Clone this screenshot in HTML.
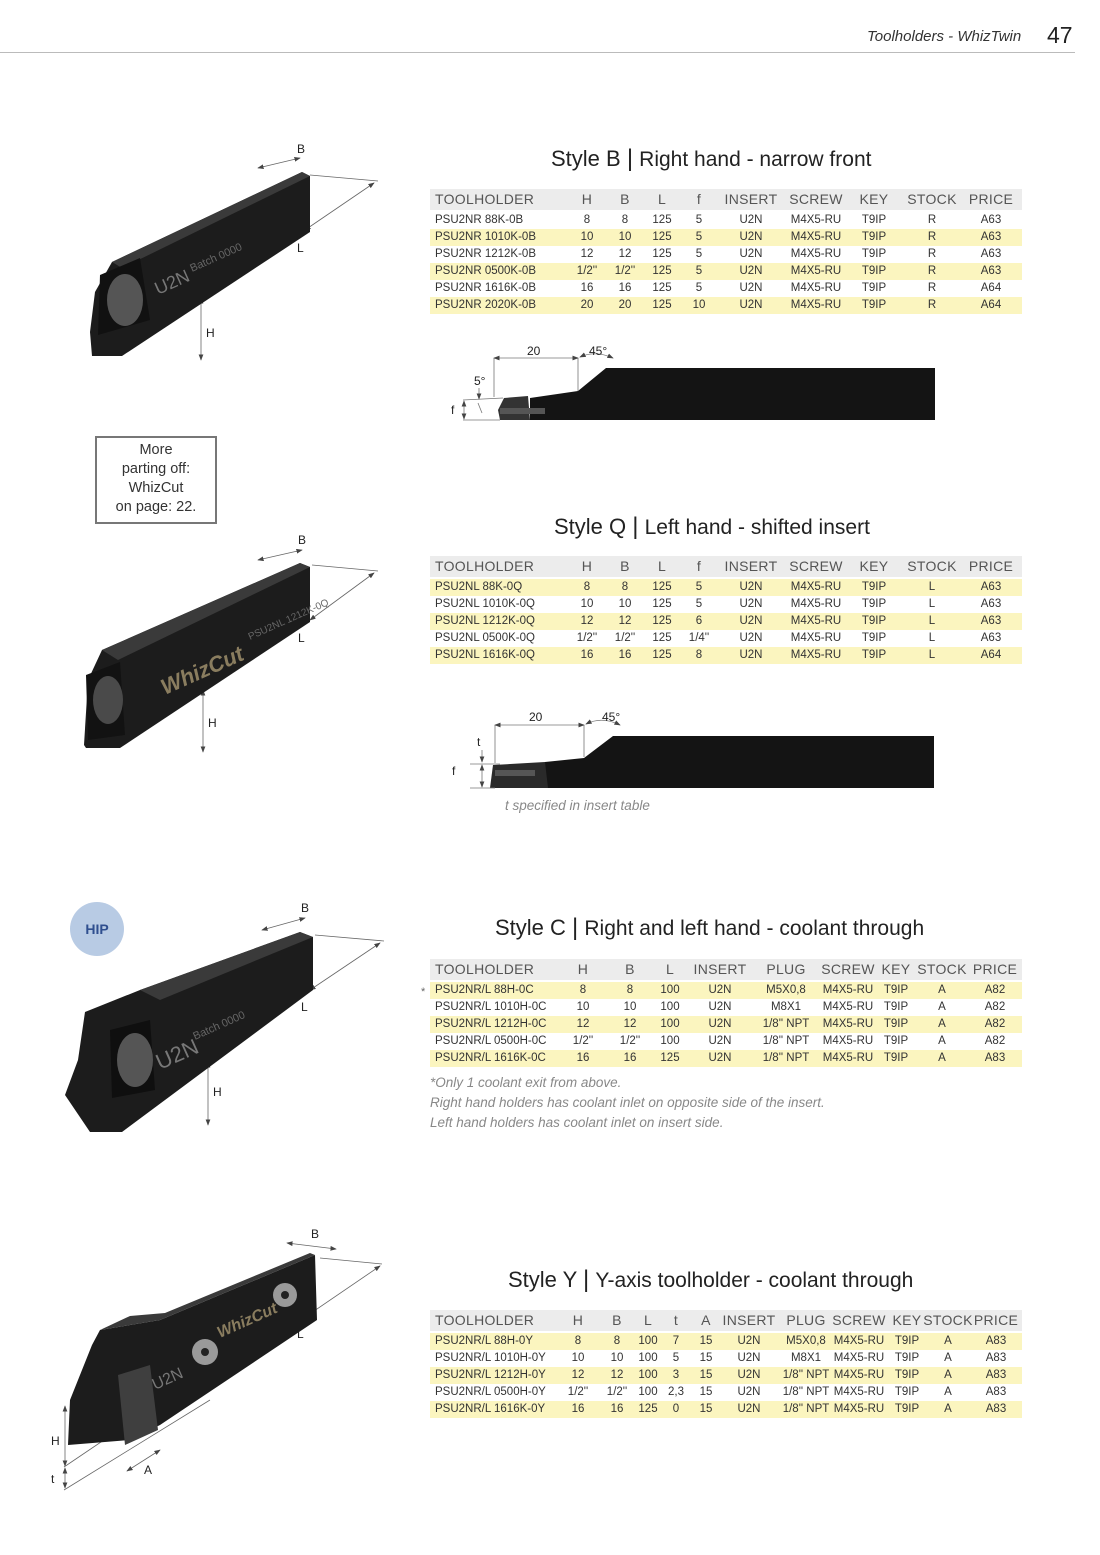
<!DOCTYPE html>
<html><head><meta charset="utf-8"><style>
*{margin:0;padding:0;box-sizing:border-box}
body{width:1100px;height:1555px;position:relative;background:#fff;font-family:"Liberation Sans",sans-serif;color:#333;overflow:hidden}
.a{position:absolute}
.tbl{position:absolute;left:430px;width:592px}
.r{position:absolute;left:0;width:592px;height:17px;font-size:11.5px;line-height:17px}
.r.y{background:#fbf5bf}
.r.hd{background:#ececec;height:21px;line-height:21px;font-size:14px;color:#555;letter-spacing:.3px}
.r span{position:absolute;width:70px;margin-left:-35px;text-align:center;white-space:nowrap}
.r span.t{margin-left:0;text-align:left;width:160px;left:5px}
.title{position:absolute;font-size:22px;color:#222;white-space:nowrap}
.note{position:absolute;font-size:13.5px;font-style:italic;color:#888;white-space:nowrap}
</style></head><body>

<div class="a" style="left:0;top:52px;width:1075px;height:1px;background:#bbb"></div>
<div class="a" style="left:867px;top:28px;font-size:15px;font-style:italic;color:#333">Toolholders - WhizTwin</div>
<div class="a" style="left:1047px;top:22px;font-size:23px;color:#222">47</div>

<!-- Style B -->
<div class="title" style="left:551px;top:145px">Style B <span style="font-size:24px">|</span> <span style="font-size:21px">Right hand - narrow front</span></div>
<style>
#tb .c2{left:157px}#tb .c3{left:195px}#tb .c4{left:232px}#tb .c5{left:269px}#tb .c6{left:321px}#tb .c7{left:386px}#tb .c8{left:444px}#tb .c9{left:502px}#tb .c10{left:561px}
</style>
<div class="tbl" id="tb" style="top:189px">
<div class="r hd" style="top:0"><span class="t">TOOLHOLDER</span><span class="c2">H</span><span class="c3">B</span><span class="c4">L</span><span class="c5">f</span><span class="c6">INSERT</span><span class="c7">SCREW</span><span class="c8">KEY</span><span class="c9">STOCK</span><span class="c10">PRICE</span></div>
<div class="r" style="top:23px"><span class="t">PSU2NR 88K-0B</span><span class="c2">8</span><span class="c3">8</span><span class="c4">125</span><span class="c5">5</span><span class="c6">U2N</span><span class="c7">M4X5-RU</span><span class="c8">T9IP</span><span class="c9">R</span><span class="c10">A63</span></div>
<div class="r y" style="top:40px"><span class="t">PSU2NR 1010K-0B</span><span class="c2">10</span><span class="c3">10</span><span class="c4">125</span><span class="c5">5</span><span class="c6">U2N</span><span class="c7">M4X5-RU</span><span class="c8">T9IP</span><span class="c9">R</span><span class="c10">A63</span></div>
<div class="r" style="top:57px"><span class="t">PSU2NR 1212K-0B</span><span class="c2">12</span><span class="c3">12</span><span class="c4">125</span><span class="c5">5</span><span class="c6">U2N</span><span class="c7">M4X5-RU</span><span class="c8">T9IP</span><span class="c9">R</span><span class="c10">A63</span></div>
<div class="r y" style="top:74px"><span class="t">PSU2NR 0500K-0B</span><span class="c2">1/2''</span><span class="c3">1/2''</span><span class="c4">125</span><span class="c5">5</span><span class="c6">U2N</span><span class="c7">M4X5-RU</span><span class="c8">T9IP</span><span class="c9">R</span><span class="c10">A63</span></div>
<div class="r" style="top:91px"><span class="t">PSU2NR 1616K-0B</span><span class="c2">16</span><span class="c3">16</span><span class="c4">125</span><span class="c5">5</span><span class="c6">U2N</span><span class="c7">M4X5-RU</span><span class="c8">T9IP</span><span class="c9">R</span><span class="c10">A64</span></div>
<div class="r y" style="top:108px"><span class="t">PSU2NR 2020K-0B</span><span class="c2">20</span><span class="c3">20</span><span class="c4">125</span><span class="c5">10</span><span class="c6">U2N</span><span class="c7">M4X5-RU</span><span class="c8">T9IP</span><span class="c9">R</span><span class="c10">A64</span></div>
</div>

<!-- Style Q -->
<div class="title" style="left:554px;top:513px">Style Q <span style="font-size:24px">|</span> <span style="font-size:21px">Left hand - shifted insert</span></div>
<div class="tbl" id="tb" style="top:556px">
<div class="r hd" style="top:0"><span class="t">TOOLHOLDER</span><span class="c2">H</span><span class="c3">B</span><span class="c4">L</span><span class="c5">f</span><span class="c6">INSERT</span><span class="c7">SCREW</span><span class="c8">KEY</span><span class="c9">STOCK</span><span class="c10">PRICE</span></div>
<div class="r y" style="top:23px"><span class="t">PSU2NL 88K-0Q</span><span class="c2">8</span><span class="c3">8</span><span class="c4">125</span><span class="c5">5</span><span class="c6">U2N</span><span class="c7">M4X5-RU</span><span class="c8">T9IP</span><span class="c9">L</span><span class="c10">A63</span></div>
<div class="r" style="top:40px"><span class="t">PSU2NL 1010K-0Q</span><span class="c2">10</span><span class="c3">10</span><span class="c4">125</span><span class="c5">5</span><span class="c6">U2N</span><span class="c7">M4X5-RU</span><span class="c8">T9IP</span><span class="c9">L</span><span class="c10">A63</span></div>
<div class="r y" style="top:57px"><span class="t">PSU2NL 1212K-0Q</span><span class="c2">12</span><span class="c3">12</span><span class="c4">125</span><span class="c5">6</span><span class="c6">U2N</span><span class="c7">M4X5-RU</span><span class="c8">T9IP</span><span class="c9">L</span><span class="c10">A63</span></div>
<div class="r" style="top:74px"><span class="t">PSU2NL 0500K-0Q</span><span class="c2">1/2''</span><span class="c3">1/2''</span><span class="c4">125</span><span class="c5">1/4''</span><span class="c6">U2N</span><span class="c7">M4X5-RU</span><span class="c8">T9IP</span><span class="c9">L</span><span class="c10">A63</span></div>
<div class="r y" style="top:91px"><span class="t">PSU2NL 1616K-0Q</span><span class="c2">16</span><span class="c3">16</span><span class="c4">125</span><span class="c5">8</span><span class="c6">U2N</span><span class="c7">M4X5-RU</span><span class="c8">T9IP</span><span class="c9">L</span><span class="c10">A64</span></div>
</div>

<!-- Style C -->
<div class="title" style="left:495px;top:914px">Style C <span style="font-size:24px">|</span> <span style="font-size:21px">Right and left hand - coolant through</span></div>
<style>
#tc .c2{left:153px}#tc .c3{left:200px}#tc .c4{left:240px}#tc .c5{left:290px}#tc .c6{left:356px}#tc .c7{left:418px}#tc .c8{left:466px}#tc .c9{left:512px}#tc .c10{left:565px}
</style>
<div class="a" style="left:421px;top:986px;font-size:11px;color:#666">*</div>
<div class="tbl" id="tc" style="top:959px">
<div class="r hd" style="top:0"><span class="t">TOOLHOLDER</span><span class="c2">H</span><span class="c3">B</span><span class="c4">L</span><span class="c5">INSERT</span><span class="c6">PLUG</span><span class="c7">SCREW</span><span class="c8">KEY</span><span class="c9">STOCK</span><span class="c10">PRICE</span></div>
<div class="r y" style="top:23px"><span class="t">PSU2NR/L 88H-0C</span><span class="c2">8</span><span class="c3">8</span><span class="c4">100</span><span class="c5">U2N</span><span class="c6">M5X0,8</span><span class="c7">M4X5-RU</span><span class="c8">T9IP</span><span class="c9">A</span><span class="c10">A82</span></div>
<div class="r" style="top:40px"><span class="t">PSU2NR/L 1010H-0C</span><span class="c2">10</span><span class="c3">10</span><span class="c4">100</span><span class="c5">U2N</span><span class="c6">M8X1</span><span class="c7">M4X5-RU</span><span class="c8">T9IP</span><span class="c9">A</span><span class="c10">A82</span></div>
<div class="r y" style="top:57px"><span class="t">PSU2NR/L 1212H-0C</span><span class="c2">12</span><span class="c3">12</span><span class="c4">100</span><span class="c5">U2N</span><span class="c6">1/8'' NPT</span><span class="c7">M4X5-RU</span><span class="c8">T9IP</span><span class="c9">A</span><span class="c10">A82</span></div>
<div class="r" style="top:74px"><span class="t">PSU2NR/L 0500H-0C</span><span class="c2">1/2''</span><span class="c3">1/2''</span><span class="c4">100</span><span class="c5">U2N</span><span class="c6">1/8'' NPT</span><span class="c7">M4X5-RU</span><span class="c8">T9IP</span><span class="c9">A</span><span class="c10">A82</span></div>
<div class="r y" style="top:91px"><span class="t">PSU2NR/L 1616K-0C</span><span class="c2">16</span><span class="c3">16</span><span class="c4">125</span><span class="c5">U2N</span><span class="c6">1/8'' NPT</span><span class="c7">M4X5-RU</span><span class="c8">T9IP</span><span class="c9">A</span><span class="c10">A83</span></div>
</div>
<div class="note" style="left:430px;top:1075px">*Only 1 coolant exit from above.</div>
<div class="note" style="left:430px;top:1095px">Right hand holders has coolant inlet on opposite side of the insert.</div>
<div class="note" style="left:430px;top:1115px">Left hand holders has coolant inlet on insert side.</div>

<!-- Style Y -->
<div class="title" style="left:508px;top:1266px">Style Y <span style="font-size:24px">|</span> <span style="font-size:21px">Y-axis toolholder - coolant through</span></div>
<style>
#ty .r span{width:60px;margin-left:-30px}
#ty .r span.t{margin-left:0;width:160px;left:5px;text-align:left}
#ty .c2{left:148px}#ty .c3{left:187px}#ty .c4{left:218px}#ty .c5{left:246px}#ty .c6{left:276px}#ty .c7{left:319px}#ty .c8{left:376px}#ty .c9{left:429px}#ty .c10{left:477px}#ty .c11{left:518px}#ty .c12{left:566px}
</style>
<div class="tbl" id="ty" style="top:1310px">
<div class="r hd" style="top:0"><span class="t">TOOLHOLDER</span><span class="c2">H</span><span class="c3">B</span><span class="c4">L</span><span class="c5">t</span><span class="c6">A</span><span class="c7">INSERT</span><span class="c8">PLUG</span><span class="c9">SCREW</span><span class="c10">KEY</span><span class="c11">STOCK</span><span class="c12">PRICE</span></div>
<div class="r y" style="top:23px"><span class="t">PSU2NR/L 88H-0Y</span><span class="c2">8</span><span class="c3">8</span><span class="c4">100</span><span class="c5">7</span><span class="c6">15</span><span class="c7">U2N</span><span class="c8">M5X0,8</span><span class="c9">M4X5-RU</span><span class="c10">T9IP</span><span class="c11">A</span><span class="c12">A83</span></div>
<div class="r" style="top:40px"><span class="t">PSU2NR/L 1010H-0Y</span><span class="c2">10</span><span class="c3">10</span><span class="c4">100</span><span class="c5">5</span><span class="c6">15</span><span class="c7">U2N</span><span class="c8">M8X1</span><span class="c9">M4X5-RU</span><span class="c10">T9IP</span><span class="c11">A</span><span class="c12">A83</span></div>
<div class="r y" style="top:57px"><span class="t">PSU2NR/L 1212H-0Y</span><span class="c2">12</span><span class="c3">12</span><span class="c4">100</span><span class="c5">3</span><span class="c6">15</span><span class="c7">U2N</span><span class="c8">1/8'' NPT</span><span class="c9">M4X5-RU</span><span class="c10">T9IP</span><span class="c11">A</span><span class="c12">A83</span></div>
<div class="r" style="top:74px"><span class="t">PSU2NR/L 0500H-0Y</span><span class="c2">1/2''</span><span class="c3">1/2''</span><span class="c4">100</span><span class="c5">2,3</span><span class="c6">15</span><span class="c7">U2N</span><span class="c8">1/8'' NPT</span><span class="c9">M4X5-RU</span><span class="c10">T9IP</span><span class="c11">A</span><span class="c12">A83</span></div>
<div class="r y" style="top:91px"><span class="t">PSU2NR/L 1616K-0Y</span><span class="c2">16</span><span class="c3">16</span><span class="c4">125</span><span class="c5">0</span><span class="c6">15</span><span class="c7">U2N</span><span class="c8">1/8'' NPT</span><span class="c9">M4X5-RU</span><span class="c10">T9IP</span><span class="c11">A</span><span class="c12">A83</span></div>
</div>

<!-- More box -->
<div class="a" style="left:95px;top:436px;width:122px;height:88px;border:2px solid #777;font-size:14.5px;line-height:19px;text-align:center;padding-top:3px;color:#333">More<br>parting off:<br>WhizCut<br>on page: 22.</div>

<!-- HIP -->
<div class="a" style="left:70px;top:902px;width:54px;height:54px;border-radius:50%;background:#b8cbe4;color:#2f4f8f;font-weight:bold;font-size:14px;text-align:center;line-height:54px">HIP</div>

<svg class="a" style="left:0;top:0" width="1100" height="1555" xmlns="http://www.w3.org/2000/svg" font-family="Liberation Sans, sans-serif">
<defs><marker id="ar" markerWidth="8" markerHeight="6" refX="7" refY="3" orient="auto-start-reverse"><path d="M0,0 L8,3 L0,6z" fill="#444"/></marker></defs>
<g stroke="#666" stroke-width="0.8" fill="none">
<line x1="258" y1="168" x2="300" y2="158" marker-start="url(#ar)" marker-end="url(#ar)"/>
<line x1="305" y1="230" x2="374" y2="183" marker-start="url(#ar)" marker-end="url(#ar)"/>
<line x1="310" y1="175" x2="378" y2="181"/>
<line x1="201" y1="298" x2="201" y2="360" marker-start="url(#ar)" marker-end="url(#ar)"/>
<line x1="258" y1="560" x2="302" y2="550" marker-start="url(#ar)" marker-end="url(#ar)"/>
<line x1="310" y1="620" x2="374" y2="573" marker-start="url(#ar)" marker-end="url(#ar)"/>
<line x1="312" y1="565" x2="378" y2="571"/>
<line x1="203" y1="690" x2="203" y2="752" marker-start="url(#ar)" marker-end="url(#ar)"/>
<line x1="262" y1="930" x2="305" y2="918" marker-start="url(#ar)" marker-end="url(#ar)"/>
<line x1="310" y1="990" x2="380" y2="943" marker-start="url(#ar)" marker-end="url(#ar)"/>
<line x1="315" y1="935" x2="384" y2="941"/>
<line x1="208" y1="1062" x2="208" y2="1125" marker-start="url(#ar)" marker-end="url(#ar)"/>
<line x1="287" y1="1243" x2="336" y2="1249" marker-start="url(#ar)" marker-end="url(#ar)"/>
<line x1="320" y1="1258" x2="382" y2="1264"/>
<line x1="210" y1="1382" x2="380" y2="1266" marker-start="url(#ar)" marker-end="url(#ar)"/>
<line x1="65" y1="1406" x2="65" y2="1466" marker-start="url(#ar)" marker-end="url(#ar)"/>
<line x1="65" y1="1468" x2="65" y2="1488" marker-start="url(#ar)" marker-end="url(#ar)"/>
<line x1="127" y1="1471" x2="160" y2="1450" marker-start="url(#ar)" marker-end="url(#ar)"/>
<line x1="64" y1="1490" x2="210" y2="1400"/>
<line x1="64" y1="1467" x2="200" y2="1375"/>
</g>
<g font-size="12" fill="#222">
<text x="297" y="153">B</text><text x="297" y="252">L</text><text x="206" y="337">H</text>
<text x="298" y="544">B</text><text x="298" y="642">L</text><text x="208" y="727">H</text>
<text x="301" y="912">B</text><text x="301" y="1011">L</text><text x="213" y="1096">H</text>
<text x="311" y="1238">B</text><text x="297" y="1338">L</text><text x="51" y="1445">H</text><text x="51" y="1483">t</text><text x="144" y="1474">A</text>
</g>

<polygon points="90,332 95,292 112,262 302,172 310,176 310,232 122,356 92,356" fill="#1c1c1c"/>
<polygon points="112,262 302,172 310,176 122,268" fill="#3a3a3a"/>
<polygon points="100,275 140,258 150,320 98,335" fill="#111"/>
<ellipse cx="125" cy="300" rx="18" ry="26" fill="#555"/>
<text x="158" y="295" font-size="18" fill="#777" transform="rotate(-24 158 295)">U2N</text>
<text x="192" y="272" font-size="11" fill="#666" transform="rotate(-24 192 272)">Batch 0000</text>

<polygon points="84,745 88,680 102,650 300,563 310,567 310,622 120,748 86,748" fill="#1c1c1c"/>
<polygon points="102,650 300,563 310,567 118,660" fill="#3a3a3a"/>
<polygon points="86,675 120,662 125,735 88,740" fill="#121212"/>
<ellipse cx="108" cy="700" rx="15" ry="24" fill="#4a4a4a"/>
<text x="165" y="695" font-size="22" font-weight="bold" font-style="italic" fill="#8a7d5f" transform="rotate(-24 165 695)">WhizCut</text>
<text x="250" y="640" font-size="10" fill="#666" transform="rotate(-24 250 640)">PSU2NL 1212K-0Q</text>

<polygon points="65,1095 78,1060 85,1012 140,990 300,932 313,937 313,990 122,1132 90,1132" fill="#1c1c1c"/>
<polygon points="140,990 300,932 313,937 160,1000" fill="#3a3a3a"/>
<polygon points="110,1030 150,1020 155,1090 112,1098" fill="#0f0f0f"/>
<ellipse cx="135" cy="1060" rx="18" ry="27" fill="#555"/>
<text x="160" y="1070" font-size="22" fill="#777" transform="rotate(-24 160 1070)">U2N</text>
<text x="195" y="1040" font-size="11" fill="#666" transform="rotate(-24 195 1040)">Batch 0000</text>

<polygon points="68,1445 70,1400 92,1345 100,1330 130,1325 160,1320 315,1255 317,1320 160,1425 130,1440" fill="#1c1c1c"/>
<polygon points="100,1330 130,1325 160,1320 315,1255 310,1253 165,1313 130,1316" fill="#3a3a3a"/>
<polygon points="118,1375 150,1365 158,1430 125,1445" fill="#3f3f3f"/>
<circle cx="205" cy="1352" r="13" fill="#9a9a9a"/><circle cx="205" cy="1352" r="4" fill="#222"/>
<circle cx="285" cy="1295" r="12" fill="#9a9a9a"/><circle cx="285" cy="1295" r="4" fill="#222"/>
<text x="220" y="1338" font-size="16" font-weight="bold" font-style="italic" fill="#8a7d5f" transform="rotate(-24 220 1338)">WhizCut</text>
<text x="155" y="1390" font-size="16" fill="#777" transform="rotate(-24 155 1390)">U2N</text>

<polygon points="530,398 578,391 606,368 935,368 935,420 530,420" fill="#141414"/>
<polygon points="504,398 528,396 530,420 500,420 498,410" fill="#333"/>
<rect x="500" y="408" width="45" height="6" fill="#555"/>
<g stroke="#777" stroke-width="0.8" fill="none">
<line x1="494" y1="358" x2="494" y2="397"/>
<line x1="578" y1="358" x2="578" y2="391"/>
<line x1="494" y1="358" x2="578" y2="358" marker-start="url(#ar)" marker-end="url(#ar)"/>
<path d="M580,357 Q595,350 613,358" marker-start="url(#ar)" marker-end="url(#ar)"/>
<line x1="463" y1="400" x2="503" y2="398"/>
<line x1="463" y1="420" x2="500" y2="420"/>
<line x1="464" y1="401" x2="464" y2="419" marker-start="url(#ar)" marker-end="url(#ar)"/>
<line x1="479" y1="388" x2="479" y2="399" marker-end="url(#ar)"/>
<line x1="478" y1="403" x2="482" y2="413"/>
</g>
<g font-size="12" fill="#222"><text x="527" y="355">20</text><text x="589" y="355">45°</text><text x="474" y="385">5°</text><text x="451" y="414">f</text></g>

<polygon points="545,762 584,758 613,736 934,736 934,788 545,788" fill="#141414"/>
<polygon points="493,765 545,762 548,788 490,788" fill="#2a2a2a"/>
<rect x="495" y="770" width="40" height="6" fill="#555"/>
<g stroke="#777" stroke-width="0.8" fill="none">
<line x1="495" y1="725" x2="495" y2="763"/>
<line x1="584" y1="725" x2="584" y2="757"/>
<line x1="495" y1="725" x2="584" y2="725" marker-start="url(#ar)" marker-end="url(#ar)"/>
<path d="M586,724 Q602,716 620,725" marker-start="url(#ar)" marker-end="url(#ar)"/>
<line x1="470" y1="764" x2="500" y2="764"/>
<line x1="470" y1="788" x2="495" y2="788"/>
<line x1="482" y1="750" x2="482" y2="762" marker-end="url(#ar)"/>
<line x1="482" y1="765" x2="482" y2="787" marker-start="url(#ar)" marker-end="url(#ar)"/>
</g>
<g font-size="12" fill="#222"><text x="529" y="721">20</text><text x="602" y="721">45°</text><text x="477" y="746">t</text><text x="452" y="775">f</text></g>
</svg>
<div class="note" style="left:505px;top:798px">t specified in insert table</div>
</body></html>
